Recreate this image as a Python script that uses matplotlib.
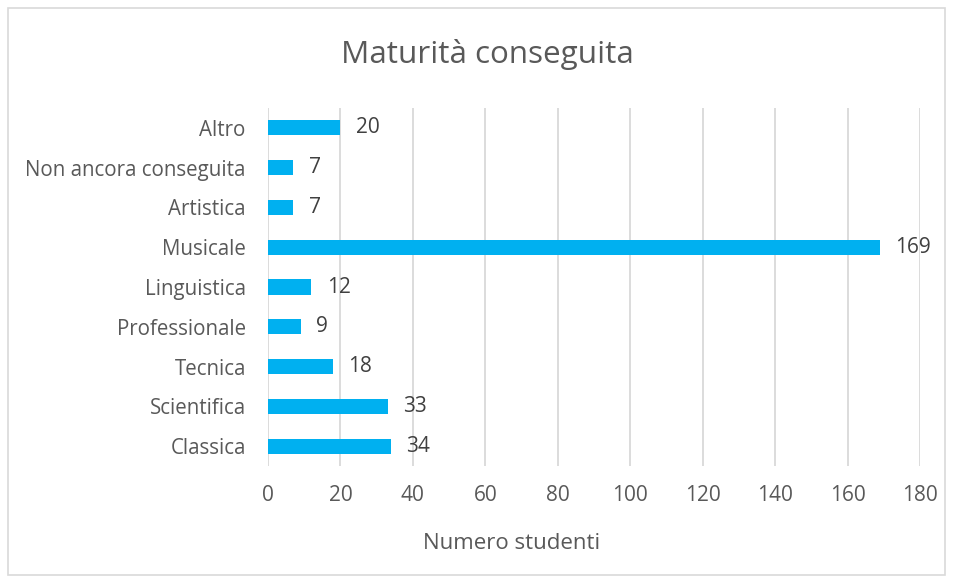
import matplotlib.pyplot as plt
from matplotlib.patches import Rectangle

categories = ['Classica', 'Scientifica', 'Tecnica', 'Professionale', 'Linguistica',
              'Musicale', 'Artistica', 'Non ancora conseguita', 'Altro']
values = [34, 33, 18, 9, 12, 169, 7, 7, 20]
xticks = [0, 20, 40, 60, 80, 100, 120, 140, 160, 180]

text_col = '#595959'
plt.rcParams['font.family'] = ['Open Sans', 'DejaVu Sans']

fig = plt.figure(figsize=(9.55, 5.78), dpi=100)
fig.patches.append(Rectangle((8 / 955, 3 / 578), 937 / 955, 567 / 578, transform=fig.transFigure,
                             fill=False, edgecolor='#d9d9d9', linewidth=1.2))
ax = fig.add_axes([0.2806, 0.1938, 0.6828, 0.6193])

bars = ax.barh(categories, values, height=0.38, color='#00B0F0')
ax.bar_label(bars, padding=11, fontsize=15, color='#404040')

ax.set_xlim(0, 180)
ax.set_ylim(-0.5, len(categories) - 0.5)
ax.set_xticks(xticks)
ax.grid(axis='x', color='#d9d9d9', linewidth=1.3)
ax.set_axisbelow(True)
for s in ax.spines.values():
    s.set_visible(False)
ax.tick_params(axis='y', length=0, labelsize=14.8, colors=text_col, pad=16)
ax.tick_params(axis='x', length=0, labelsize=15, colors=text_col, pad=14)
ax.set_xlabel('Numero studenti', fontsize=16, color=text_col, labelpad=19)
ax.xaxis.label.set_x(0.373)
fig.text(0.51, 0.905, 'Maturità conseguita', ha='center', va='center', fontsize=22.6, color=text_col)

fig.savefig('out.png', dpi=100)
